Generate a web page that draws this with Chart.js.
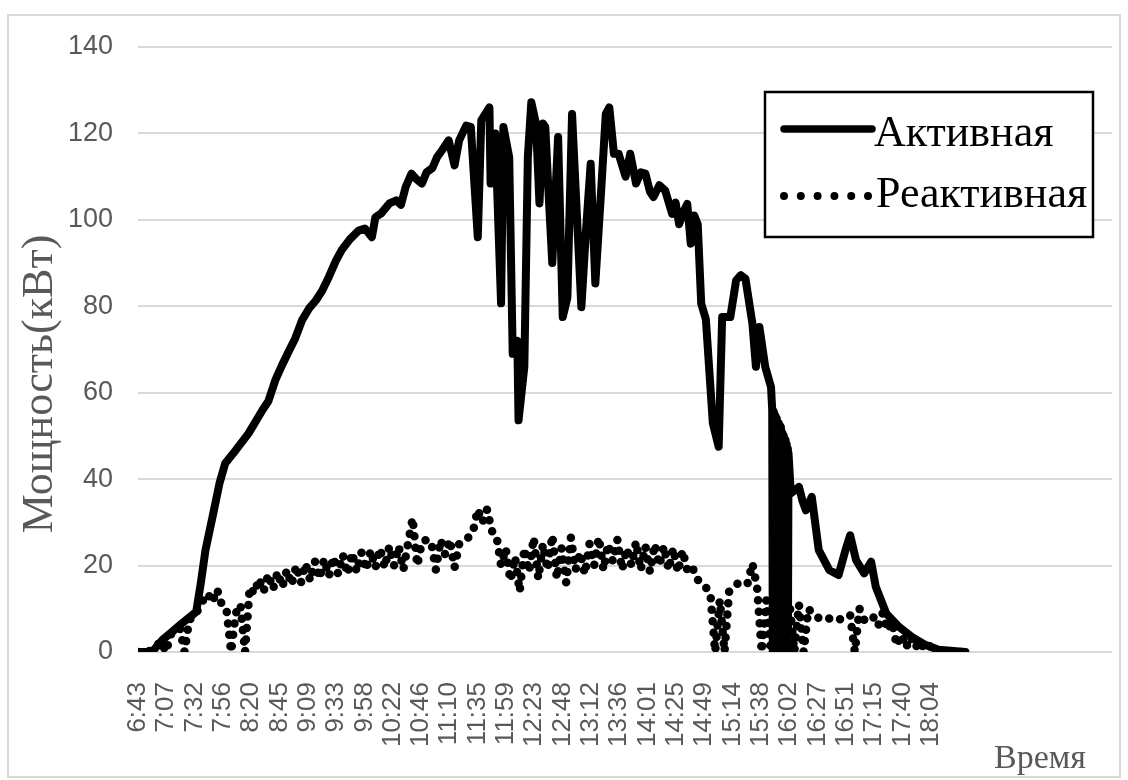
<!DOCTYPE html>
<html lang="ru">
<head>
<meta charset="UTF-8">
<title>Мощность</title>
<script src="https://cdn.jsdelivr.net/npm/chart.js"></script>
<style>
  html, body { margin: 0; padding: 0; background: #fff; }
</style>
</head>
<body>
<canvas id="powerChart" width="1128" height="780"></canvas>
<script>
// x axis tick labels (every ~24 min)
const tickLabels = ['6:43', '7:07', '7:32', '7:56', '8:20', '8:45', '9:09', '9:33', '9:58', '10:22',
  '10:46', '11:10', '11:35', '11:59', '12:23', '12:48', '13:12', '13:36', '14:01', '14:25',
  '14:49', '15:14', '15:38', '16:02', '16:27', '16:51', '17:15', '17:40', '18:04'];
const axisStart = '6:43';
const axisEnd = '20:40';

// Активная мощность, кВт
const activeTimes = ['6:43', '6:55', '7:04', '7:12', '7:21', '7:33', '7:37', '7:41', '7:47', '7:53',
  '7:58', '8:07', '8:18', '8:30', '8:35', '8:41', '8:47', '8:53', '8:58', '9:04',
  '9:10', '9:16', '9:21', '9:27', '9:33', '9:38', '9:45', '9:53', '9:58', '10:04',
  '10:07', '10:12', '10:19', '10:25', '10:29', '10:33', '10:38', '10:42', '10:47', '10:51',
  '10:56', '11:00', '11:04', '11:10',
  '11:15', '11:19', '11:25', '11:29', '11:35', '11:38', '11:45', '11:46', '11:50', '11:55',
  '11:57', '12:02', '12:05', '12:09', '12:10', '12:15', '12:18', '12:21', '12:25', '12:28',
  '12:31', '12:33', '12:36', '12:39', '12:44', '12:48', '12:52', '12:56', '13:00', '13:04',
  '13:08', '13:12', '13:16', '13:21', '13:25', '13:28', '13:32', '13:36', '13:42', '13:46',
  '13:51', '13:55', '13:59', '14:03', '14:06', '14:11', '14:16', '14:22', '14:25', '14:28',
  '14:32', '14:35', '14:38', '14:41', '14:44', '14:47',
  '14:51', '14:57', '15:02', '15:05', '15:12', '15:17', '15:21', '15:25', '15:31', '15:34',
  '15:37', '15:42', '15:47',
  '15:48', '15:48:30', '15:49', '15:49:30', '15:50', '15:50:30', '15:51', '15:51:30',
  '15:52', '15:52:30', '15:53', '15:53:30', '15:54', '15:54:30', '15:55', '15:55:30',
  '15:56', '15:56:30', '15:57', '15:57:30', '15:58', '15:58:30', '15:59', '15:59:30',
  '16:00', '16:00:30', '16:01', '16:01:30', '16:02',
  '16:04', '16:11', '16:14', '16:17', '16:22', '16:28', '16:37', '16:45', '16:51', '16:55',
  '17:00', '17:07', '17:13', '17:17', '17:26', '17:37', '17:48', '18:00', '18:11', '18:34'];
const activeValues = [0, 0, 2.8, 4.6, 6.7, 9.3, 16, 23.6, 31.2, 39,
  43.7, 46.7, 50.6, 56, 58, 62.9, 66.5, 69.8, 72.5, 76.8,
  79.5, 81.4, 83.5, 86.8, 90.5, 93, 95.5, 97.6, 98, 96,
  100.6, 101.5, 103.8, 104.5, 103.5, 107.6, 110.7, 109.5, 108.4, 111,
  112, 114.5, 116, 118.4,
  112.6, 118.4, 121.8, 121.5, 96, 123, 126, 108.4, 120, 80.7,
  121.5, 114.5, 69, 72, 53.6, 66, 114.5, 127.2, 122.3, 103.8,
  122.3, 121.5, 105.3, 90, 119.2, 77.5, 82, 124.5, 102, 79.8,
  97.6, 113, 85.3, 106.8, 124.5, 126, 115.3, 115.3, 110, 115.3,
  108.4, 111, 110.7, 106.5, 105.3, 108, 106.8, 101.4, 104, 99,
  102, 103.7, 94.5, 101, 99, 80.6,
  77, 52.9, 47.5, 77.5, 77.5, 86, 87.2, 86.4, 76, 66,
  75.2, 66, 61.3,
  56, 0, 55.5, 0, 55, 0, 54.5, 0,
  54, 0, 53, 0, 52.5, 0, 52, 0,
  51, 0, 50.5, 0, 50, 0, 49, 0,
  48, 0, 47, 0, 46,
  36.7, 38.2, 35, 32.8, 35.9, 23.6, 19, 17.8, 23.6, 27,
  21.3, 18.2, 20.9, 15.1, 8.9, 5.8, 3.5, 1.6, 0.5, 0];

// Реактивная мощность, кВАр (samples every reactStep minutes from reactStart)
const reactStart = '6:43';
const reactStep = 4;
const reactValues = [0, 0, 0, 0.5, 1.5, 2.5, 0, 4, 5, 5.5,
  0, 7.5, 8, 10, 12, 13.5, 11.5, 14.5, 11, 10,
  0, 9, 11, 0, 15, 13.5, 17, 14, 18, 14.5,
  18.5, 15, 19, 15.5, 20, 16, 20.5, 16.5, 21, 17,
  21.5, 17.5, 22, 18, 22.5, 18, 23, 18.5, 23, 19,
  23.5, 19.5, 24, 19.5, 24.5, 20, 24.5, 19, 25, 31,
  20, 25.5, 26, 25.5, 19, 26, 22.5, 26, 19.5, 25,
  26, 26.5, 28, 33, 30, 33, 28, 27, 20, 24,
  16.5, 22, 14, 24, 18.5, 26.5, 17, 25, 19, 27,
  17, 24, 16, 26.5, 19, 23, 18, 25, 20, 26.5,
  19, 25, 21, 26, 19, 24, 20, 25.5, 19, 24.5,
  18.5, 25, 20, 24.5, 19, 24, 18.5, 23.5, 19, 20,
  17, 16, 15, 13, 0, 12, 0, 14, 15, 16,
  15.5, 16, 20.5, 15, 0, 12, 0, 0, 0, 5,
  11, 0, 11, 0, 10, 9, 8, 7.5, 7.5, 8,
  8, 7.5, 8, 8.5, 0, 10, 7.5, 7, 8, 6,
  9, 5, 7, 1.5, 4, 1, 3.5, 1, 2.5, 0.5,
  1.5, 0, 0.5, 0, 0, 0, 0, 0];

// 'H:MM' or 'H:MM:SS' -> minutes since midnight
function toMin(t) {
  const p = t.split(':').map(Number);
  return p[0] * 60 + p[1] + (p[2] || 0) / 60;
}

const grey = '#595959';

const activeData = activeTimes.map((t, i) => ({ x: toMin(t), y: activeValues[i] }));
const reactData = reactValues.map((v, i) => ({ x: toMin(reactStart) + i * reactStep, y: v }));

// frame, axis titles and the boxed legend
const decor = {
  id: 'decor',
  beforeDraw(chart) {
    const ctx = chart.ctx;
    ctx.save();
    ctx.fillStyle = '#fff';
    ctx.fillRect(0, 0, chart.width, chart.height);
    ctx.strokeStyle = '#d9d9d9';
    ctx.lineWidth = 2;
    ctx.strokeRect(8, 15, 1112, 762);
    ctx.restore();
  },
  afterDraw(chart) {
    const ctx = chart.ctx;
    ctx.save();
    // y title
    ctx.fillStyle = grey;
    ctx.font = '44px "Liberation Serif"';
    ctx.textAlign = 'center';
    ctx.textBaseline = 'middle';
    ctx.translate(40, 384);
    ctx.rotate(-Math.PI / 2);
    ctx.fillText('Мощность(кВт)', 0, 0);
    ctx.restore();

    ctx.save();
    ctx.fillStyle = grey;
    ctx.font = '34px "Liberation Serif"';
    ctx.textAlign = 'center';
    ctx.textBaseline = 'alphabetic';
    ctx.fillText('Время', 1040, 768);
    ctx.restore();

    // legend
    ctx.save();
    ctx.fillStyle = '#fff';
    ctx.fillRect(765, 92, 328, 145);
    ctx.strokeStyle = '#000';
    ctx.lineWidth = 2.5;
    ctx.strokeRect(765, 92, 328, 145);

    const a = chart.data.datasets[0];
    ctx.strokeStyle = a.borderColor;
    ctx.lineWidth = 7.5;
    ctx.lineCap = 'round';
    ctx.beginPath();
    ctx.moveTo(784, 129);
    ctx.lineTo(872, 129);
    ctx.stroke();

    ctx.setLineDash([0, 16.8]);
    ctx.lineWidth = 8;
    ctx.beginPath();
    ctx.moveTo(784, 196);
    ctx.lineTo(870, 196);
    ctx.stroke();
    ctx.setLineDash([]);

    ctx.fillStyle = '#000';
    ctx.font = '44px "Liberation Serif"';
    ctx.textAlign = 'left';
    ctx.textBaseline = 'alphabetic';
    ctx.fillText(chart.data.datasets[0].label, 874, 146);
    ctx.fillText(chart.data.datasets[1].label, 876, 207);
    ctx.restore();
  }
};

new Chart(document.getElementById('powerChart'), {
  type: 'line',
  data: {
    datasets: [
      {
        label: 'Активная',
        data: activeData,
        borderColor: '#000',
        borderWidth: 8,
        pointRadius: 0,
        tension: 0,
        borderJoinStyle: 'round',
        borderCapStyle: 'round'
      },
      {
        label: 'Реактивная',
        data: reactData,
        borderColor: '#000',
        borderWidth: 8.5,
        borderDash: [0, 11.5],
        borderCapStyle: 'round',
        pointRadius: 0,
        tension: 0
      }
    ]
  },
  options: {
    responsive: false,
    devicePixelRatio: 1,
    animation: false,
    layout: { padding: { left: 0, top: 47, right: 16, bottom: 0 } },
    plugins: { legend: { display: false }, tooltip: { enabled: false } },
    scales: {
      x: {
        type: 'linear',
        min: toMin(axisStart),
        max: toMin(axisEnd),
        grid: { display: false },
        border: { display: false },
        afterBuildTicks: s => { s.ticks = tickLabels.map(t => ({ value: toMin(t) })); },
        afterFit: s => { s.height = 128; },
        ticks: {
          autoSkip: false,
          minRotation: 90,
          maxRotation: 90,
          padding: 22,
          color: grey,
          font: { family: '"Liberation Sans", Arial, sans-serif', size: 26 },
          callback: (v, i) => tickLabels[i]
        }
      },
      y: {
        min: 0,
        max: 140,
        grid: { color: '#d9d9d9', lineWidth: 2, drawTicks: false },
        border: { display: false },
        afterFit: s => { s.width = 138; },
        ticks: {
          stepSize: 20,
          padding: 25,
          color: grey,
          font: { family: '"Liberation Sans Narrow", "Liberation Sans", sans-serif', size: 27 }
        }
      }
    }
  },
  plugins: [decor]
});
</script>
</body>
</html>
